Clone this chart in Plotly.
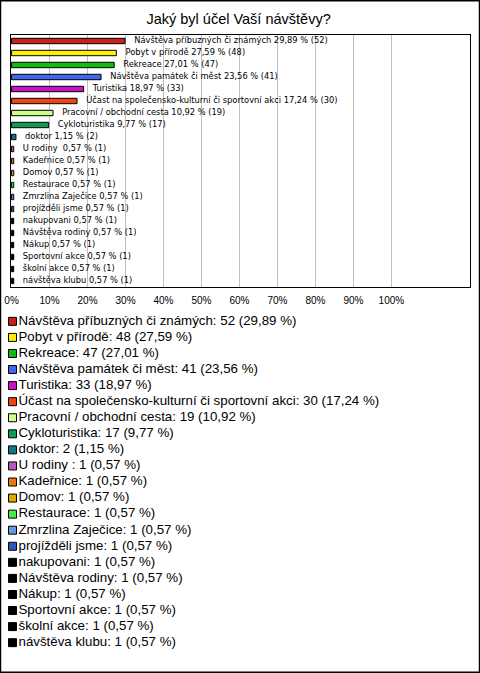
import plotly.graph_objects as go

categories = [
    "Návštěva příbuzných či známých", "Pobyt v přírodě", "Rekreace",
    "Návštěva památek či měst", "Turistika",
    "Účast na společensko-kulturní či sportovní akci",
    "Pracovní / obchodní cesta", "Cykloturistika", "doktor", "U rodiny ",
    "Kadeřnice", "Domov", "Restaurace", "Zmrzlina Zaječice", "projížděli jsme",
    "nakupovani", "Návštěva rodiny", "Nákup", "Sportovní akce", "školní akce",
    "návštěva klubu",
]
counts = [52, 48, 47, 41, 33, 30, 19, 17, 2, 1, 1, 1, 1, 1, 1, 1, 1, 1, 1, 1, 1]
percents = [29.89, 27.59, 27.01, 23.56, 18.97, 17.24, 10.92, 9.77, 1.15,
            0.57, 0.57, 0.57, 0.57, 0.57, 0.57, 0.57, 0.57, 0.57, 0.57, 0.57, 0.57]
colors = ["#c8201a", "#ffee00", "#11bb11", "#4466ee", "#cc11cc", "#ee4411",
          "#ccff88", "#119955", "#117788", "#bb55bb", "#ee7711", "#ddaa00",
          "#44ee44", "#6699dd", "#3355bb", "#000000", "#000000", "#000000",
          "#000000", "#000000", "#000000"]
tick_values = [0, 10, 20, 30, 40, 50, 60, 70, 80, 90, 100]
tick_labels = [f"{v}%" for v in tick_values]

FONT = "Liberation Sans, Arial, sans-serif"
W, H = 480, 673

def pct_str(p):
    return f"{p:.2f}".replace(".", ",")

bar_labels = [f"{c} {pct_str(p)} % ({n})" for c, p, n in zip(categories, percents, counts)]
legend_labels = [f"{c}: {n} ({pct_str(p)} %)" for c, p, n in zip(categories, percents, counts)]

fig = go.Figure()

fig.add_trace(go.Bar(
    x=percents, y=categories, orientation="h",
    marker=dict(color=colors, line=dict(color="black", width=1)),
    width=0.45, showlegend=False, hoverinfo="skip",
    xaxis="x", yaxis="y",
))
fig.add_trace(go.Scatter(
    x=percents, y=categories, mode="markers+text", text=bar_labels,
    textposition="middle right",
    marker=dict(size=13, opacity=0),
    textfont=dict(family="DejaVu Sans, sans-serif", size=8.3, color="#000000"),
    showlegend=False, hoverinfo="skip", cliponaxis=False,
    xaxis="x", yaxis="y",
))

# legend drawn as a second panel
fig.add_trace(go.Scatter(
    x=[12.5] * len(categories), y=categories, mode="markers+text",
    text=legend_labels, textposition="middle right",
    marker=dict(symbol="square", size=8, color=colors,
                line=dict(color="black", width=1)),
    textfont=dict(family=FONT, size=13.3, color="#000000"),
    showlegend=False, hoverinfo="skip", cliponaxis=False,
    xaxis="x2", yaxis="y2",
))

plot_l, plot_r, plot_t, plot_b = 11, 470, 35, 287
leg_t, leg_b = 313.3, 650.7

fig.update_layout(
    template="none",
    width=W, height=H, autosize=False,
    margin=dict(l=0, r=0, t=0, b=0, pad=0, autoexpand=False),
    paper_bgcolor="white", plot_bgcolor="white",
    font=dict(family=FONT, color="black"),
    title=dict(text="Jaký byl účel Vaší návštěvy?", x=0.497, xanchor="center",
               y=1 - 19 / H, yanchor="middle",
               font=dict(family=FONT, size=14.5, color="black")),
    xaxis=dict(domain=[plot_l / W, plot_r / W], range=[-0.15, 120.7],
               tickvals=tick_values, ticktext=tick_labels,
               tickfont=dict(family=FONT, size=10, color="black"),
               showgrid=True, gridcolor="#c0c0c0", gridwidth=1,
               zeroline=False, showline=True, linecolor="black", linewidth=1,
               mirror=True, ticks="outside", ticklen=4,
               tickcolor="rgba(0,0,0,0)", anchor="y", automargin=False),
    yaxis=dict(domain=[1 - plot_b / H, 1 - plot_t / H], type="category",
               range=[len(categories) - 0.5, -0.5],
               showticklabels=False, showgrid=False, zeroline=False,
               showline=True, linecolor="black", linewidth=1, mirror=True,
               ticks="", anchor="x", automargin=False),
    xaxis2=dict(domain=[0, 1], range=[0, W], visible=False, anchor="y2",
                automargin=False),
    yaxis2=dict(domain=[1 - leg_b / H, 1 - leg_t / H], type="category",
                range=[len(categories) - 0.5, -0.5], visible=False,
                anchor="x2", automargin=False),
    shapes=[dict(type="rect", xref="paper", yref="paper", x0=0.001, x1=0.999,
                 y0=0.001, y1=0.999, line=dict(color="black", width=1.5))],
)

fig.write_html("out.html", config={"displayModeBar": False},
               post_script="document.body.style.margin='0px';document.body.style.overflow='hidden';")
